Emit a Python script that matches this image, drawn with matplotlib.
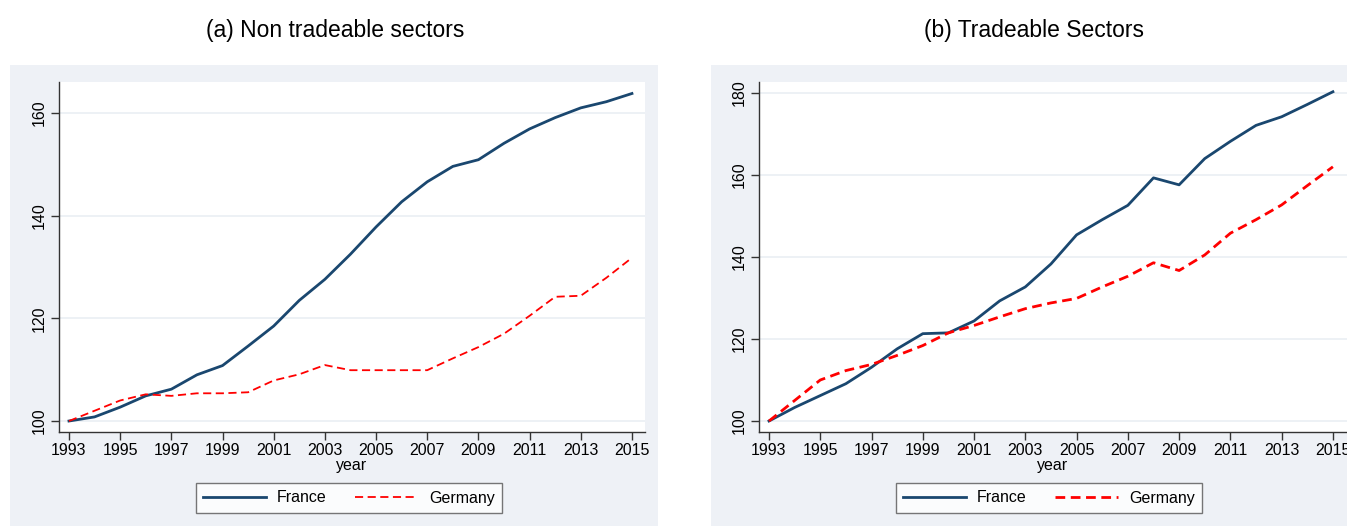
import matplotlib
matplotlib.use("Agg")
import matplotlib.pyplot as plt
from matplotlib.patches import Rectangle

years = list(range(1993, 2016))

france_nt = [100, 100.8, 102.7, 104.9, 106.2, 109.0, 110.8, 114.6, 118.5, 123.5, 127.6,
             132.5, 137.8, 142.7, 146.6, 149.6, 150.9, 154.1, 156.9, 159.1, 161.0, 162.2, 163.8]
germany_nt = [100, 102.0, 104.0, 105.2, 104.9, 105.4, 105.4, 105.6, 107.9, 109.1, 110.9,
              109.9, 109.9, 109.9, 109.9, 112.2, 114.4, 117.0, 120.5, 124.2, 124.4, 127.9, 131.8]

france_t = [100, 103.3, 106.2, 109.1, 113.1, 117.6, 121.3, 121.5, 124.4, 129.3, 132.7,
            138.3, 145.4, 149.1, 152.6, 159.3, 157.6, 164.0, 168.2, 172.1, 174.2, 177.2, 180.3]
germany_t = [100, 105.0, 110.0, 112.3, 113.8, 116.0, 118.4, 121.5, 123.3, 125.4, 127.4,
             128.8, 129.9, 132.7, 135.3, 138.6, 136.7, 140.5, 145.8, 149.1, 152.7, 157.4, 162.0]

titles = ["(a) Non tradeable sectors", "(b) Tradeable Sectors"]
xticks = list(range(1993, 2016, 2))
yticks_nt = [100, 120, 140, 160]
yticks_t = [100, 120, 140, 160, 180]

plt.rcParams['font.family'] = ['Liberation Sans', 'DejaVu Sans']

W, H = 1347, 526
fig = plt.figure(figsize=(W / 100, H / 100), dpi=100)
fig.patch.set_facecolor('white')

BG = '#eef1f6'
NAVY = '#1a476f'
RED = '#ff0000'
GRID = '#eaeff4'

def fx(px):
    return px / W

def fy(py):
    return 1 - py / H

# gray backgrounds
fig.patches.append(Rectangle((fx(10), 0), fx(658) - fx(10), fy(65), transform=fig.transFigure,
                             facecolor=BG, edgecolor='none', zorder=-5))
fig.patches.append(Rectangle((fx(711), 0), fx(1347) - fx(711), fy(65), transform=fig.transFigure,
                             facecolor=BG, edgecolor='none', zorder=-5))

panels = [
    dict(left=59, right=645, fr=france_nt, de=germany_nt, yt=yticks_nt,
         ylim=(97.86, 166.04), xlim=(1992.61, 2015.51), lw_de=1.3, title_x=335, leg_x=349,
         dash=(0, (4.5, 2.5))),
    dict(left=759, right=1347, fr=france_t, de=germany_t, yt=yticks_t,
         ylim=(97.32, 182.68), xlim=(1992.61, 2015.55), lw_de=2.0, title_x=1034, leg_x=1049,
         dash=(0, (3.5, 2.0))),
]

for i, p in enumerate(panels):
    ax = fig.add_axes([fx(p['left']), fy(432), fx(p['right']) - fx(p['left']), fy(82) - fy(432)])
    ax.set_facecolor('white')
    for t in p['yt']:
        ax.axhline(t, color=GRID, lw=1.2, zorder=1)
    ax.plot(years, p['fr'], color=NAVY, lw=2.0, label='France', zorder=3)
    ax.plot(years, p['de'], color=RED, lw=p['lw_de'], ls=p['dash'], label='Germany', zorder=3)
    ax.set_xlim(*p['xlim'])
    ax.set_ylim(*p['ylim'])
    ax.set_xticks(xticks)
    ax.set_yticks(p['yt'])
    ax.set_yticklabels([str(v) for v in p['yt']], rotation=90, va='center')
    ax.tick_params(axis='both', direction='out', length=6, width=1, color='#333333',
                   labelsize=11.5, labelcolor='black')
    ax.tick_params(axis='x', pad=2)
    ax.tick_params(axis='y', pad=3)
    for s in ['top', 'right']:
        ax.spines[s].set_visible(False)
    for s in ['left', 'bottom']:
        ax.spines[s].set_color('#333333')
        ax.spines[s].set_linewidth(1)
    ax.set_xlabel('year', fontsize=11.5, labelpad=0)
    fig.text(fx(p['title_x']), fy(30), titles[i], ha='center', va='center', fontsize=16.5)
    leg = ax.legend(loc='center', bbox_to_anchor=(fx(p['leg_x']), fy(498)),
                    bbox_transform=fig.transFigure, ncol=2, frameon=True, fancybox=False,
                    edgecolor='#555555', fontsize=11.5, handlelength=3.9, columnspacing=1.8,
                    handletextpad=0.7, borderpad=0.45)
    leg.get_frame().set_linewidth(1)

fig.savefig('out.png', dpi=100, facecolor='white')
